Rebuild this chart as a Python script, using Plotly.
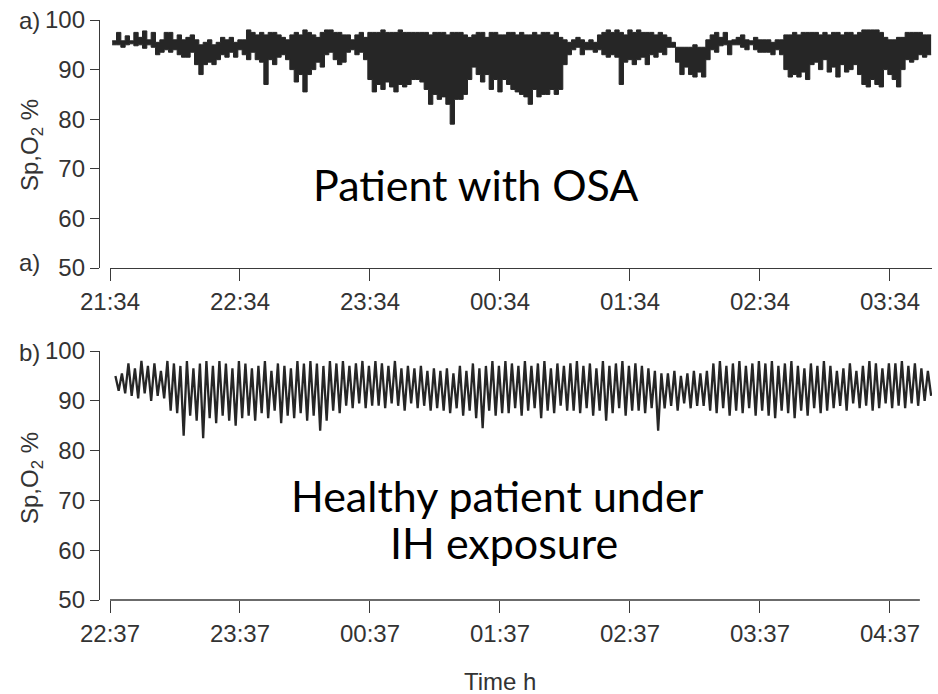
import pandas as pd
import plotly.graph_objects as go

W, H = 938, 694

# ---------------- data ----------------
# Panel a: patient with OSA, SpO2 envelope per 2-minute bin starting 21:35
osa_start = "2000-01-01 21:35"
osa_bin_min = 2
osa_upper = [
    95.8, 97.5, 95.8, 96.8, 95.8, 97.5, 96.5, 97.8, 96, 97.5,
    95.5, 96, 97.5, 97.5, 96, 97, 96, 96.5, 97, 96,
    95, 95.5, 96, 95, 95.5, 96.5, 96, 96.5, 95.5, 96,
    96, 98, 97.5, 97, 97.5, 97, 97.5, 97.5, 97, 96.5,
    96, 97, 97.5, 97, 98, 97.5, 97, 96.5, 97.5, 98,
    98, 97.5, 97.5, 97, 97, 96, 97, 97.5, 96.5, 97.5,
    97.5, 97.5, 98, 97.5, 97.5, 97.5, 98, 97.5, 97.5, 97.5,
    97.5, 97.5, 97.5, 97, 97.5, 97.5, 97.5, 97, 97.5, 97.5,
    97.5, 97, 96.5, 97, 97.5, 97.5, 96.5, 97.5, 97.5, 97,
    97, 97.5, 97.5, 97, 97.5, 97, 97, 97.5, 97, 97.5,
    97.5, 97, 97.5, 96.5, 96, 95.5, 96, 96.5, 96, 95.5,
    96, 95.5, 97, 97.5, 98, 97.5, 98, 97.5, 97, 98,
    97.5, 98, 97.5, 97.5, 97.5, 97, 97.5, 97, 96.5, 95.5,
    94.5, 94.5, 94.5, 94.5, 95, 94.5, 94.5, 96, 97, 97.5,
    96.5, 97.5, 95.8, 96, 96.5, 97, 96, 95.8, 96.5, 96,
    96, 96, 95.5, 96, 96, 97, 97, 97.5, 97, 97.5,
    97.5, 97.5, 97.5, 97, 97.5, 97, 97.5, 97.5, 97, 97.5,
    97.5, 97, 97.5, 98, 98, 98, 98, 97.5, 96.5, 96,
    96, 96.5, 96.5, 97.5, 97.5, 97.5, 97.5, 97, 97,
]
osa_lower = [
    95, 95, 94.5, 95, 95.2, 94.8, 95, 94.3, 95, 94.5,
    93, 93.5, 94, 93.5, 94, 93, 92.5, 92.5, 93.5, 91,
    89, 91, 91.5, 91, 92, 93, 92.5, 93.5, 92.5, 94,
    93, 92, 93.5, 92, 91.5, 87, 92, 91, 92.5, 93,
    92, 90, 87.5, 89, 85.5, 89, 90, 91.5, 90.5, 93,
    93.5, 92, 91, 91.5, 93.5, 94, 93, 93.5, 92, 88,
    85.5, 87, 86, 87.5, 86.5, 85.5, 87, 86.5, 87, 88,
    88, 87.5, 86, 83, 85, 84, 84.5, 83, 79, 84,
    84, 85, 88, 90.5, 89, 87.5, 89, 86, 88, 85.5,
    88, 87, 86, 85.5, 85, 84.5, 83, 86, 84.5, 85,
    85, 86, 85, 86, 91, 93, 94, 94.5, 93, 94,
    94, 93.5, 94, 93, 92.5, 93, 92.5, 87, 91.5, 92,
    91, 92, 92.5, 91, 93, 92.5, 93.5, 93, 94.5, 94.5,
    91.5, 89, 90.5, 89, 88.5, 89.5, 88.5, 92, 94, 93.5,
    94.8, 95, 93, 95, 95, 94.5, 94, 95, 94, 93.5,
    93.5, 93.5, 93, 94, 93, 90, 88.5, 89, 88.5, 89.5,
    88, 91, 91.5, 90, 92, 89.5, 90.5, 88.5, 91, 89.5,
    90, 91, 89, 87, 86.5, 88, 87, 86.5, 90, 89,
    88, 86.5, 90, 92, 91.5, 92, 93, 92.5, 93,
]

# Panel b: healthy subject under intermittent hypoxia, one peak/trough per 3-min cycle
ih_start = "2000-01-01 22:39:30"
ih_cycle_min = 3
ih_peaks = [
    95, 95.5, 97.5, 96.5, 98, 97, 97.5, 96, 98, 97.5,
    97, 98, 96.5, 97.5, 98, 97, 98, 97.5, 96.5, 98,
    97.5, 96.5, 97, 98, 96, 97.5, 97, 96.5, 98, 97.5,
    98, 97.5, 97, 98, 97.5, 98, 97, 97.5, 98, 97,
    98, 97.5, 97, 98, 96.5, 97, 96.5, 97, 96, 96.5,
    96, 96.5, 95.5, 97, 96, 97.5, 96.5, 97, 98, 97,
    98, 97.5, 97, 98, 97, 97.5, 98, 96.5, 97.5, 97,
    97.5, 98, 97, 97.5, 96.5, 98, 97, 97.5, 98, 97,
    97.5, 97, 96.5, 96, 95.5, 95.5, 96, 95, 95.5, 96,
    95.5, 96, 97.5, 98, 97, 97.5, 98, 97, 97.5, 98,
    97.5, 98, 97, 97.5, 98, 97, 96.5, 97.5, 97, 98,
    97, 96, 96.5, 97.5, 96, 97, 98, 97.5, 96.5, 97.5,
    97.5, 98, 97, 97.5, 96.5, 96,
]
ih_troughs = [
    92, 91.5, 91, 90.5, 91.5, 90, 91, 90.5, 88, 87.5,
    83, 87, 86, 82.5, 86.5, 85.5, 87, 86, 85, 86.5,
    87, 86, 87.5, 86.5, 88, 85.5, 87, 86.5, 87.5, 86,
    87, 84, 86, 88, 87.5, 89, 88.5, 89.5, 88.5, 89,
    89, 88.5, 89.5, 89, 88, 89.5, 88.5, 89, 88, 88.5,
    88, 87.5, 88.5, 87, 88, 86.5, 84.5, 88, 87, 87.5,
    87.5, 88.5, 87, 88, 88.5, 86.5, 88, 87.5, 89, 88,
    88, 87.5, 88.5, 87, 88, 86, 87.5, 88.5, 87, 88,
    88, 87.5, 88.5, 84, 88.5, 89, 88, 89.5, 88.5, 89,
    89, 88, 87.5, 88.5, 87, 88, 87.5, 88.5, 87, 88,
    87, 86.5, 88, 87.5, 86.5, 88, 87, 88.5, 87.5, 88,
    88.5, 89, 88, 89.5, 88.5, 89, 88, 88.5, 89.5, 88.5,
    89, 88.5, 89.5, 89, 90, 91,
]

y_ticks = [50, 60, 70, 80, 90, 100]
axis_a_start = "2000-01-01 21:34"
axis_b_start = "2000-01-01 22:37"
axis_span_min = 379.4
axis_b_line_min = 373.8

# ---------------- build series ----------------
t_a0 = pd.Timestamp(osa_start)
osa_x = [t_a0 + pd.Timedelta(minutes=osa_bin_min * i) for i in range(len(osa_upper) + 1)]
osa_up_y = osa_upper + [osa_upper[-1]]
osa_lo_y = osa_lower + [osa_lower[-1]]

t_b0 = pd.Timestamp(ih_start)
ih_x, ih_y = [], []
for i, (p, q) in enumerate(zip(ih_peaks, ih_troughs)):
    ih_x.append(t_b0 + pd.Timedelta(minutes=ih_cycle_min * i))
    ih_y.append(p)
    ih_x.append(t_b0 + pd.Timedelta(minutes=ih_cycle_min * i + ih_cycle_min / 2))
    ih_y.append(q)

INK = "#262626"
fig = go.Figure()
fig.add_trace(go.Scatter(x=osa_x, y=osa_up_y, mode="lines", line=dict(shape="hv", color=INK, width=1),
                         xaxis="x", yaxis="y", showlegend=False, hoverinfo="skip"))
fig.add_trace(go.Scatter(x=osa_x, y=osa_lo_y, mode="lines", line=dict(shape="hv", color=INK, width=1),
                         fill="tonexty", fillcolor=INK, xaxis="x", yaxis="y", showlegend=False, hoverinfo="skip"))
fig.add_trace(go.Scatter(x=ih_x, y=ih_y, mode="lines", line=dict(color=INK, width=2.3),
                         xaxis="x2", yaxis="y2", showlegend=False, hoverinfo="skip"))

def px_x(p):
    return p / W

def px_y(p):
    return 1 - p / H

tick_font = dict(family="Liberation Sans, Arial, sans-serif", size=24, color="#333333")
AX = "#3a3a3a"

ta = pd.Timestamp(axis_a_start)
tb = pd.Timestamp(axis_b_start)

common_x = dict(type="date", tickformat="%H:%M", dtick=3600000, ticks="outside", ticklen=12,
                tickwidth=1.3, tickcolor=AX, linecolor=AX, linewidth=1.3, showgrid=False,
                zeroline=False, tickfont=tick_font, domain=[px_x(110), px_x(932)], anchor="free",
                automargin=False)
common_y = dict(range=[50, 100], tickvals=y_ticks, ticks="outside", ticklen=9, tickwidth=1.3,
                tickcolor=AX, showline=True, linecolor=AX, linewidth=1.3, showgrid=False,
                zeroline=False, tickfont=tick_font, anchor="free", position=px_x(99),
                automargin=False)

fig.update_layout(
    template="none",
    width=W, height=H, margin=dict(l=0, r=0, t=0, b=0, pad=0),
    paper_bgcolor="white", plot_bgcolor="white",
    xaxis=dict(common_x, range=[ta, ta + pd.Timedelta(minutes=axis_span_min)], tick0=ta,
               showline=True, position=px_y(268)),
    yaxis=dict(common_y, domain=[px_y(268), px_y(20)]),
    xaxis2=dict(common_x, range=[tb, tb + pd.Timedelta(minutes=axis_span_min)], tick0=tb,
                showline=False, position=px_y(600)),
    yaxis2=dict(common_y, domain=[px_y(600), px_y(351)]),
)

# x-axis line of panel b (shorter than its plotting area)
fig.add_shape(type="line", xref="x2", yref="paper", x0=tb, x1=tb + pd.Timedelta(minutes=axis_b_line_min),
              y0=px_y(600), y1=px_y(600), line=dict(color=AX, width=1.3))

lab_font = dict(family="Liberation Sans, Arial, sans-serif", size=24, color="#333333")
big_font = dict(family="Lato, Open Sans, sans-serif", size=43, color="black")

def ann(text, x, y, font, xanchor="center", angle=0):
    fig.add_annotation(text=text, x=px_x(x), y=px_y(y), xref="paper", yref="paper",
                       showarrow=False, font=font, xanchor=xanchor, yanchor="middle", textangle=angle)

ann("a)", 42, 21, lab_font, xanchor="right")
ann("a)", 42, 262, lab_font, xanchor="right")
ann("b)", 42, 352, lab_font, xanchor="right")
ann("Sp,O<sub>2</sub> %", 31, 145, lab_font, angle=-90)
ann("Sp,O<sub>2</sub> %", 31, 478, lab_font, angle=-90)
ann("Time h", 500, 681, lab_font)
ann("Patient with OSA", 475, 184, big_font)
ann("Healthy patient under", 498, 495, big_font)
ann("IH exposure", 504, 542, big_font)

fig.write_html("out.html")
